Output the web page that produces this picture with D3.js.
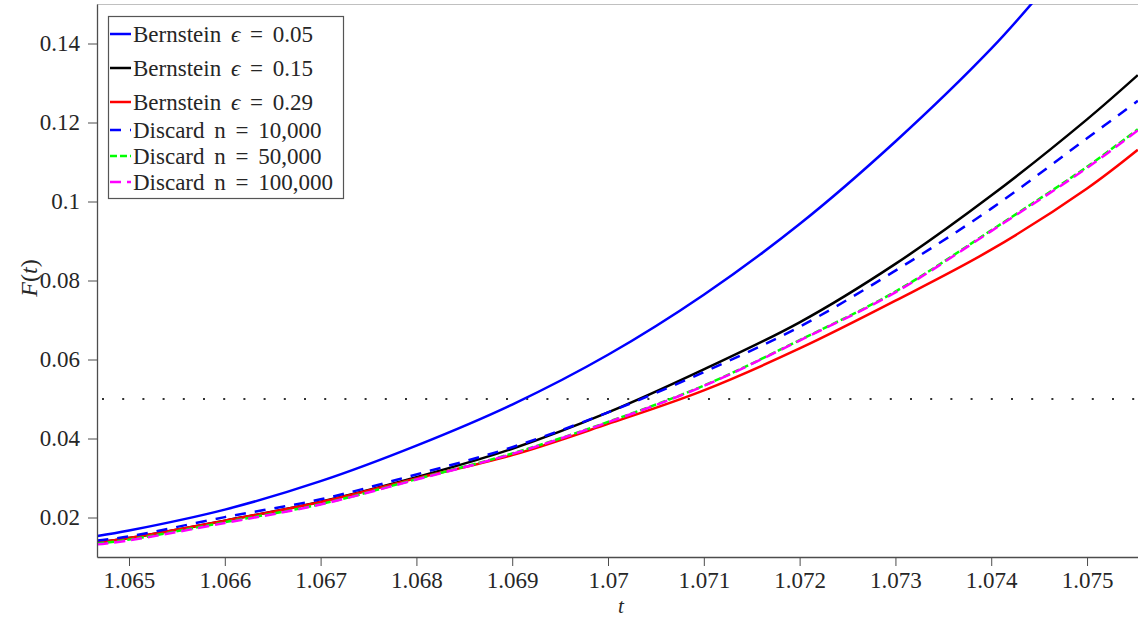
<!DOCTYPE html>
<html>
<head>
<meta charset="utf-8">
<script src="https://cdn.jsdelivr.net/npm/d3@7"></script>
<style>
  html, body { margin: 0; padding: 0; background: #fff; }
  svg { display: block; }
  text { font-family: "Liberation Serif", "DejaVu Serif", serif; fill: #262626; }
</style>
</head>
<body>
<svg id="chart" width="1138" height="617"></svg>
<script>
// ---- data ----
const tCommon = [1.06467, 1.065, 1.066, 1.067, 1.068, 1.069, 1.070, 1.071, 1.072, 1.073, 1.074, 1.075, 1.07553];
const tBern005 = [1.06467, 1.065, 1.066, 1.067, 1.068, 1.069, 1.070, 1.071, 1.072, 1.073, 1.074, 1.0745];

const bern005 = [0.0153, 0.0167, 0.0220, 0.0292, 0.0382, 0.0486, 0.0612, 0.0764, 0.0943, 0.1152, 0.1387, 0.1523];
const bern015 = [0.0137, 0.0148, 0.0192, 0.0240, 0.0302, 0.0374, 0.0466, 0.0575, 0.0694, 0.0842, 0.1015, 0.1208, 0.1320];
const bern029 = [0.0137, 0.0148, 0.0192, 0.0239, 0.0299, 0.0358, 0.0437, 0.0522, 0.0628, 0.0749, 0.0878, 0.1033, 0.1131];
const disc10k = [0.0142, 0.0152, 0.0201, 0.0246, 0.0309, 0.0378, 0.0466, 0.0568, 0.0683, 0.0825, 0.0982, 0.1160, 0.1255];
const disc50k = [0.0134, 0.0144, 0.0188, 0.0234, 0.0297, 0.0362, 0.0442, 0.0534, 0.0649, 0.0772, 0.0927, 0.1088, 0.1183];
const disc100k = [0.0132, 0.0142, 0.0186, 0.0233, 0.0296, 0.0361, 0.0441, 0.0533, 0.0648, 0.0770, 0.0925, 0.1085, 0.1180];

const threshold = 0.05;

const xTicks = [1.065, 1.066, 1.067, 1.068, 1.069, 1.070, 1.071, 1.072, 1.073, 1.074, 1.075];
const xTickLabels = ["1.065", "1.066", "1.067", "1.068", "1.069", "1.07", "1.071", "1.072", "1.073", "1.074", "1.075"];
const yTicks = [0.02, 0.04, 0.06, 0.08, 0.10, 0.12, 0.14];
const yTickLabels = ["0.02", "0.04", "0.06", "0.08", "0.1", "0.12", "0.14"];

const seriesNames = ["Bernstein ϵ = 0.05", "Bernstein ϵ = 0.15", "Bernstein ϵ = 0.29",
                     "Discard n = 10,000", "Discard n = 50,000", "Discard n = 100,000"];

// ---- layout / style ----
const W = 1138, H = 617;
const plot = { left: 97, right: 1138, top: 4, bottom: 557 };
const xDomain = [1.064666, 1.075532];
const yDomain = [0.01, 0.15];
const FONT = "'Liberation Serif', 'DejaVu Serif', serif";

const styles = [
  { color: "#0000ff", dash: null },
  { color: "#000000", dash: null },
  { color: "#ff0000", dash: null },
  { color: "#0000ff", dash: "11,9" },
  { color: "#00ff00", dash: "7,3" },
  { color: "#ff00ff", dash: "11,6" }
];

const series = [
  { t: tBern005, v: bern005 },
  { t: tCommon, v: bern015 },
  { t: tCommon, v: bern029 },
  { t: tCommon, v: disc10k },
  { t: tCommon, v: disc50k },
  { t: tCommon, v: disc100k }
];

const svg = d3.select("#chart");
const x = d3.scaleLinear().domain(xDomain).range([plot.left, plot.right]);
const y = d3.scaleLinear().domain(yDomain).range([plot.bottom, plot.top]);

svg.append("defs").append("clipPath").attr("id", "clip")
  .append("rect")
  .attr("x", plot.left).attr("y", plot.top)
  .attr("width", plot.right - plot.left).attr("height", plot.bottom - plot.top);

// top border (light)
svg.append("line")
  .attr("x1", plot.left).attr("x2", plot.right)
  .attr("y1", plot.top + 0.5).attr("y2", plot.top + 0.5)
  .attr("stroke", "#c0c0c0").attr("stroke-width", 1);

// threshold dotted line
svg.append("line")
  .attr("clip-path", "url(#clip)")
  .attr("x1", x(xDomain[0]) + 5).attr("x2", plot.right)
  .attr("y1", y(threshold)).attr("y2", y(threshold))
  .attr("stroke", "#333").attr("stroke-width", 2)
  .attr("stroke-dasharray", "2,18.2");

// curves
const line = d3.line().curve(d3.curveCatmullRom.alpha(0.5));
const g = svg.append("g").attr("clip-path", "url(#clip)");
series.forEach((s, i) => {
  const pts = s.t.map((tv, j) => [x(tv), y(s.v[j])]);
  g.append("path")
    .attr("d", line(pts))
    .attr("fill", "none")
    .attr("stroke", styles[i].color)
    .attr("stroke-width", 2.5)
    .attr("stroke-dasharray", styles[i].dash);
});

// axes
const axisColor = "#4d4d4d";
const xAxis = d3.axisBottom(x).tickValues(xTicks)
  .tickFormat((d, i) => xTickLabels[i]).tickSize(9).tickSizeOuter(0).tickPadding(6);
const yAxis = d3.axisLeft(y).tickValues(yTicks)
  .tickFormat((d, i) => yTickLabels[i]).tickSize(9).tickSizeOuter(0).tickPadding(8);

const gx = svg.append("g").attr("transform", `translate(0,${plot.bottom})`).call(xAxis);
const gy = svg.append("g").attr("transform", `translate(${plot.left},0)`).call(yAxis);
[gx, gy].forEach(a => {
  a.attr("font-family", null).attr("font-size", null);
  a.select(".domain").attr("stroke", axisColor).attr("stroke-width", 1.3);
  a.selectAll(".tick line").attr("stroke", axisColor).attr("stroke-width", 1);
  a.selectAll(".tick text")
    .style("font-family", FONT).style("font-size", "23px").style("fill", "#262626");
});

// axis labels
svg.append("text")
  .attr("x", 621).attr("y", 613)
  .attr("text-anchor", "middle").style("font-size", "21px").attr("font-style", "italic")
  .text("t");

const yl = svg.append("text")
  .attr("transform", "translate(37,278) rotate(-90)")
  .attr("text-anchor", "middle").style("font-size", "24px");
yl.append("tspan").attr("font-style", "italic").text("F");
yl.append("tspan").text("(");
yl.append("tspan").attr("font-style", "italic").text("t");
yl.append("tspan").text(")");

// legend
const legend = { x: 108, y: 16, w: 235, h: 182 };
const rowY = [34, 68, 102, 130, 156, 182];
const lg = svg.append("g");
lg.append("rect")
  .attr("x", legend.x + 0.5).attr("y", legend.y + 0.5)
  .attr("width", legend.w).attr("height", legend.h)
  .attr("fill", "#fff").attr("stroke", "#555").attr("stroke-width", 1.2);

seriesNames.forEach((name, i) => {
  lg.append("line")
    .attr("x1", 110).attr("x2", 131)
    .attr("y1", rowY[i]).attr("y2", rowY[i])
    .attr("stroke", styles[i].color).attr("stroke-width", 2.5)
    .attr("stroke-dasharray", styles[i].dash);
  const t = lg.append("text")
    .attr("x", 133).attr("y", rowY[i]).attr("dy", "0.33em")
    .style("font-size", "23px").attr("word-spacing", "4px");
  if (name.startsWith("Bernstein")) {
    const parts = name.split("ϵ");
    t.append("tspan").text(parts[0]);
    t.append("tspan").attr("font-style", "italic").text("ϵ");
    t.append("tspan").text(parts[1]);
  } else {
    t.text(name);
  }
});
</script>
</body>
</html>
